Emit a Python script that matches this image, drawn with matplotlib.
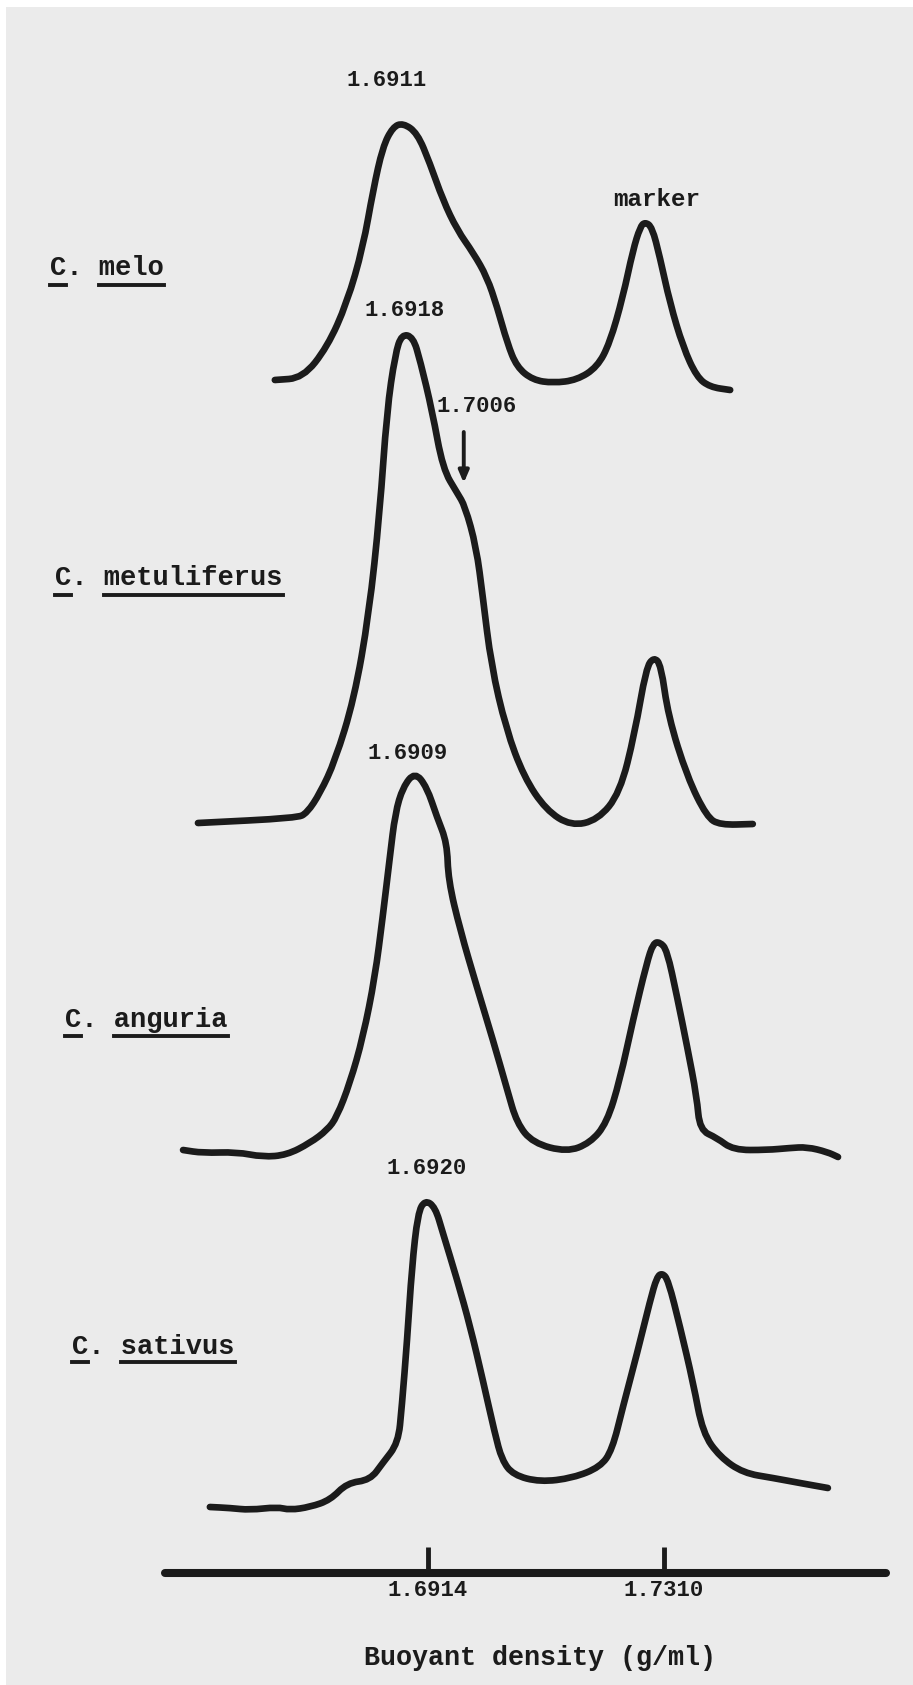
import matplotlib
matplotlib.use("Agg")
import matplotlib.pyplot as plt
from matplotlib.lines import Line2D
from matplotlib.patches import Rectangle, PathPatch
from matplotlib.path import Path

# density (g/ml) and relative absorbance
melo_density = [1.6657, 1.6704, 1.6745, 1.6778, 1.6805, 1.6822, 1.6838, 1.6855, 1.6872, 1.6896,
                1.6917, 1.6939, 1.6963, 1.6990, 1.7013, 1.7030, 1.7047, 1.7063, 1.7090, 1.7124,
                1.7164, 1.7198, 1.7219, 1.7241, 1.7258, 1.7270, 1.7278, 1.7290, 1.7303, 1.7320,
                1.7342, 1.7365, 1.7387, 1.7421]
melo_abs = [0.10, 0.12, 0.43, 0.87, 1.43, 2.00, 2.43, 2.63, 2.67, 2.57,
            2.27, 1.90, 1.60, 1.37, 1.13, 0.83, 0.47, 0.23, 0.10, 0.07,
            0.10, 0.23, 0.47, 0.93, 1.40, 1.63, 1.68, 1.63, 1.33, 0.87,
            0.43, 0.13, 0.03, 0.00]

metu_density = [1.6528, 1.6694, 1.6711, 1.6733, 1.6758, 1.6790, 1.6815, 1.6833, 1.6845, 1.6859,
                1.6870, 1.6889, 1.6901, 1.6921, 1.6939, 1.6963, 1.6976, 1.6995, 1.7006, 1.7020,
                1.7045, 1.7075, 1.7112, 1.7154, 1.7199, 1.7236, 1.7261, 1.7280, 1.7293, 1.7305,
                1.7317, 1.7349, 1.7382, 1.7404, 1.7459]
metu_abs = [0.03, 0.08, 0.13, 0.33, 0.65, 1.27, 2.12, 3.13, 4.15, 4.72,
            4.92, 4.89, 4.65, 4.15, 3.57, 3.33, 3.20, 2.79, 2.29, 1.61,
            0.97, 0.49, 0.16, 0.00, 0.06, 0.33, 0.93, 1.58, 1.69, 1.61,
            1.10, 0.49, 0.09, 0.01, 0.02]

angu_density = [1.6503, 1.6536, 1.6593, 1.6637, 1.6677, 1.6716, 1.6745, 1.6761, 1.6783, 1.6805,
                1.6825, 1.6838, 1.6850, 1.6859, 1.6872, 1.6892, 1.6912, 1.6929, 1.6946, 1.6948,
                1.6968, 1.6996, 1.7023, 1.7047, 1.7063, 1.7090, 1.7147, 1.7186, 1.7214, 1.7236,
                1.7258, 1.7281, 1.7292, 1.7303, 1.7315, 1.7332, 1.7349, 1.7365, 1.7370, 1.7399,
                1.7426, 1.7483, 1.7521, 1.7550, 1.7584, 1.7602]
angu_abs = [0.07, 0.04, 0.05, 0.00, 0.02, 0.14, 0.27, 0.40, 0.74, 1.20,
            1.80, 2.40, 3.00, 3.44, 3.70, 3.85, 3.70, 3.40, 3.14, 2.77,
            2.27, 1.70, 1.17, 0.67, 0.34, 0.14, 0.05, 0.14, 0.34, 0.77,
            1.37, 1.94, 2.14, 2.15, 2.07, 1.60, 1.10, 0.60, 0.27, 0.19,
            0.07, 0.07, 0.09, 0.10, 0.05, 0.00]

sati_density = [1.6548, 1.6582, 1.6615, 1.6661, 1.6682, 1.6716, 1.6750, 1.6778, 1.6817, 1.6838,
                1.6864, 1.6870, 1.6879, 1.6887, 1.6897, 1.6909, 1.6926, 1.6939, 1.6963, 1.6985,
                1.7006, 1.7026, 1.7038, 1.7057, 1.7102, 1.7157, 1.7203, 1.7223, 1.7241, 1.7265,
                1.7287, 1.7298, 1.7307, 1.7317, 1.7337, 1.7359, 1.7375, 1.7404, 1.7443, 1.7493,
                1.7538, 1.7585]
sati_abs = [0.03, 0.02, 0.00, 0.03, 0.00, 0.03, 0.10, 0.27, 0.30, 0.47,
            0.67, 1.03, 1.70, 2.43, 2.97, 3.10, 3.03, 2.77, 2.30, 1.83,
            1.30, 0.77, 0.50, 0.35, 0.28, 0.32, 0.43, 0.60, 1.03, 1.57,
            2.10, 2.33, 2.37, 2.30, 1.83, 1.27, 0.77, 0.53, 0.37, 0.32,
            0.27, 0.22]

species = ["melo", "metuliferus", "anguria", "sativus"]
peak_labels = ["1.6911", "1.6918", "1.6909", "1.6920"]
shoulder_label = "1.7006"
tick_values = [1.6914, 1.7310]
tick_labels = ["1.6914", "1.7310"]

traces = [(melo_density, melo_abs), (metu_density, metu_abs),
          (angu_density, angu_abs), (sati_density, sati_abs)]

# layout
W, H = 913, 1685
offsets = [12.95, 8.59, 5.28, 1.75]
peak_text_pos = [(1.6845, 16.05), (1.6875, 13.75), (1.6880, 9.32), (1.6911, 5.16)]
shoulder_text_pos = (1.6995, 12.79)
arrow_from = (1.6974, 12.53)
arrow_to = (1.6974, 12.02)
marker_text_pos = (1.7298, 14.85)
name_pos = [(50, 268, 285), (55, 578, 595), (65, 1020, 1036), (72, 1347, 1362)]

ink = "#1b1b1b"
paper = "#ebebeb"
font = "Liberation Mono"


def pen_trace(xs, ys):
    # smooth pen-like path using the read points as quadratic control points
    pts = list(zip(xs, ys))
    verts = [pts[0], ((pts[0][0] + pts[1][0]) / 2, (pts[0][1] + pts[1][1]) / 2)]
    codes = [Path.MOVETO, Path.LINETO]
    for i in range(1, len(pts) - 1):
        nxt = ((pts[i][0] + pts[i + 1][0]) / 2, (pts[i][1] + pts[i + 1][1]) / 2)
        verts += [pts[i], nxt]
        codes += [Path.CURVE3, Path.CURVE3]
    verts.append(pts[-1])
    codes.append(Path.LINETO)
    return Path(verts, codes)


fig = plt.figure(figsize=(W / 100, H / 100), dpi=100)
fig.patch.set_facecolor("white")
fig.add_artist(Rectangle((6 / W, 0), 1, 1 - 7 / H, transform=fig.transFigure,
                         facecolor=paper, edgecolor="none", zorder=-10))

ax_left, ax_right, ax_bottom = 165, 886, 112
ax = fig.add_axes([ax_left / W, ax_bottom / H, (ax_right - ax_left) / W, 1 - ax_bottom / H])
ax.set_facecolor("none")
k = 0.0396 / 236
ax.set_xlim(1.6914 + (ax_left - 428) * k, 1.6914 + (ax_right - 428) * k)
ax.set_ylim(ax_bottom / 100, H / 100)

for (dens, ab), off in zip(traces, offsets):
    ax.add_patch(PathPatch(pen_trace(dens, [a + off for a in ab]), facecolor="none",
                           edgecolor=ink, lw=4.8, capstyle="round", joinstyle="round",
                           clip_on=False))

for lab, (x, y) in zip(peak_labels, peak_text_pos):
    ax.text(x, y, lab, ha="center", va="center", fontsize=16, family=font,
            weight="bold", color=ink)
ax.text(*shoulder_text_pos, shoulder_label, ha="center", va="center", fontsize=16,
        family=font, weight="bold", color=ink)
ax.text(*marker_text_pos, "marker", ha="center", va="center", fontsize=17.5,
        family=font, weight="bold", color=ink)
ax.annotate("", xy=arrow_to, xytext=arrow_from,
            arrowprops=dict(arrowstyle="-|>,head_length=0.7,head_width=0.3",
                            color=ink, lw=2.8, shrinkA=0, shrinkB=0))

for s in ["left", "right", "top"]:
    ax.spines[s].set_visible(False)
ax.spines["bottom"].set_linewidth(5.8)
ax.spines["bottom"].set_color(ink)
ax.spines["bottom"].set_capstyle("round")
ax.set_yticks([])
ax.set_xticks(tick_values)
ax.set_xticklabels(tick_labels, family=font, weight="bold", fontsize=16, color=ink)
ax.tick_params(axis="x", direction="in", length=19, width=3.5, color=ink, pad=5)
ax.set_xlabel("Buoyant density (g/ml)", family=font, weight="bold", fontsize=19.3, color=ink)
ax.xaxis.set_label_coords((540 - ax_left) / (ax_right - ax_left), -0.046)

# species names, genus initial and epithet underlined separately
name_texts = []
for sp, (x, y, uy) in zip(species, name_pos):
    s = "C. " + sp
    t = fig.text(x / W, 1 - y / H, s, ha="left", va="center", fontsize=19.5,
                 family=font, weight="bold", color=ink)
    name_texts.append((t, s, uy))

fig.canvas.draw()
for t, s, uy in name_texts:
    bb = t.get_window_extent()
    cw = bb.width / len(s)
    yy = 1 - uy / H
    for i0, i1 in [(0, 1), (3, len(s))]:
        fig.add_artist(Line2D([(bb.x0 + i0 * cw) / W, (bb.x0 + i1 * cw) / W], [yy, yy],
                              transform=fig.transFigure, color=ink, lw=2.8))

fig.savefig("out.png", dpi=100, facecolor=fig.get_facecolor())
plt.close(fig)
